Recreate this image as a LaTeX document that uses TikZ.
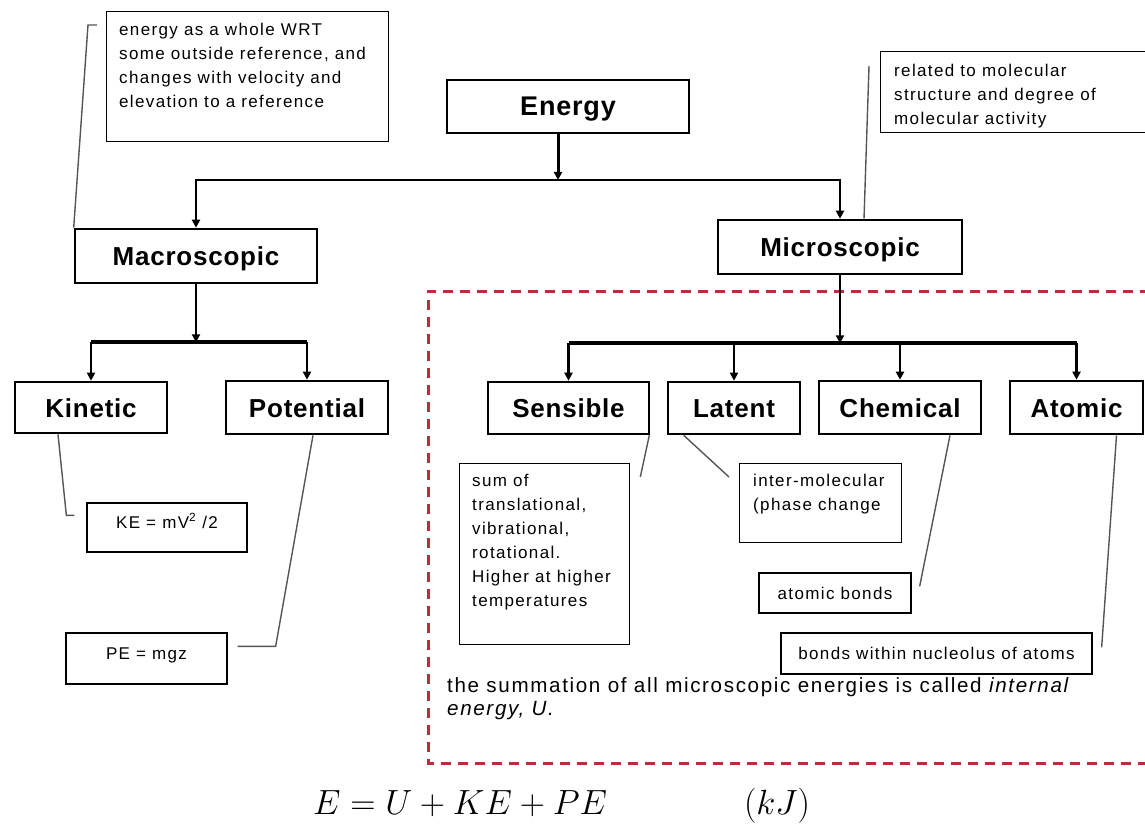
\RequirePackage{fix-cm}
\documentclass[tikz,border=0pt]{standalone}
\usepackage{fontspec}
\usetikzlibrary{arrows.meta,calc}
\newfontfamily\boxfont[LetterSpace=3]{Liberation Sans}
\newfontfamily\notefont[LetterSpace=8]{Liberation Sans}
\definecolor{dashred}{RGB}{185,45,60}
\definecolor{leadgray}{RGB}{85,85,85}

\begin{document}
\begin{tikzpicture}[x=1pt,y=-1pt,
  mainbox/.style={draw,line width=2.6pt,inner sep=0pt,text height=19pt,text depth=0pt,font=\boxfont\bfseries\fontsize{26}{30}\selectfont},
  notebox/.style={draw,line width=1.3pt,inner sep=0pt,text height=12.2pt,text depth=0pt,font=\notefont\fontsize{17}{24}\selectfont},
  notetext/.style={anchor=north west,inner sep=0pt,align=left,font=\notefont\fontsize{17}{24}\selectfont},
  conn/.style={line width=2.6pt,-{Triangle[length=8pt,width=8pt]}},
  bus/.style={line width=4pt},
  leader/.style={draw=leadgray,line width=1.4pt}]

\def\rowy{407.5};
\def\noteh{49};

\useasboundingbox (0,0) rectangle (1145,826);

\draw[dashred,line width=3pt,dash pattern=on 10pt off 7pt] (1150,291) -- (428,291) -- (428,763) -- (1150,763);

\node[mainbox,minimum width=242pt,minimum height=53pt,font=\boxfont\bfseries\fontsize{27}{32}\selectfont] (energy) at (568,106.5) {Energy};
\node[mainbox,minimum width=242pt,minimum height=54pt] (macro) at (196,256) {Macroscopic};
\node[mainbox,minimum width=244pt,minimum height=54pt] (micro) at (840,247) {Microscopic};

\node[mainbox,minimum width=152pt,minimum height=51pt] (kin) at (91,\rowy) {Kinetic};
\node[mainbox,minimum width=162pt,minimum height=53pt] (pot) at (307,\rowy) {Potential};
\node[mainbox,minimum width=161pt,minimum height=52pt] (sens) at (568.5,408) {Sensible};
\node[mainbox,minimum width=132pt,minimum height=52pt] (lat) at (734,408) {Latent};
\node[mainbox,minimum width=162pt,minimum height=53pt] (chem) at (900,\rowy) {Chemical};
\node[mainbox,minimum width=133pt,minimum height=53pt] (atom) at (1076.5,\rowy) {Atomic};

\coordinate (ej) at (558,180);
\draw[conn,line width=3pt] (energy.south -| ej) -- (ej);
\draw[conn] (ej) -| (macro.north);
\draw[conn] (ej) -| (micro.north);

\coordinate (mj) at ($(macro.south)+(0,58)$);
\draw[conn] (macro.south) -- (mj);
\draw[bus] (kin.north |- mj) -- (pot.north |- mj);
\draw[conn] (kin.north |- mj) -- (kin.north);
\draw[conn] (pot.north |- mj) -- (pot.north);

\coordinate (sj) at ($(micro.south)+(0,68)$);
\draw[conn] (micro.south) -- (sj);
\draw[bus] (sens.north |- sj) -- (atom.north |- sj);
\foreach \n in {sens,lat,chem,atom}
  \draw[conn] (\n.north |- sj) -- (\n.north);

\node[notebox,minimum width=282pt,minimum height=130pt,anchor=north west] (wrtnote) at (106,11) {};
\node[notetext] (wrttext) at ($(wrtnote.north west)+(13,11.5)$) {energy as a whole WRT\\some outside reference, and\\changes with velocity and\\elevation to a reference};

\node[notebox,minimum width=270pt,minimum height=81pt,anchor=north west] (molnote) at (880,51) {};
\node[notetext] (moltext) at ($(molnote.north west)+(14,12.5)$) {related to molecular\\structure and degree of\\molecular activity};

\node[notebox,minimum width=160pt,minimum height=\noteh pt,text depth=11pt] (kenote) at (167,527.5) {KE = mV\textsuperscript{2} /2};
\node[notebox,minimum width=161pt,minimum height=51pt,text depth=11pt] (penote) at (146.5,658.5) {PE = mgz};

\node[notebox,minimum width=170pt,minimum height=181pt,anchor=north west] (sensnote) at (459,463) {};
\node[notetext] (senstext) at ($(sensnote.north west)+(13,10.5)$) {sum of\\translational,\\vibrational,\\rotational.\\Higher at higher\\temperatures};

\node[notebox,minimum width=162pt,minimum height=79pt,anchor=north west] (latnote) at (739,463) {};
\node[notetext] (lattext) at ($(latnote.north west)+(14,10.5)$) {inter-molecular\\(phase change};

\node[notebox,minimum width=152pt,minimum height=40pt] (chemnote) at (835,593) {atomic bonds};
\node[notebox,minimum width=311pt,minimum height=41pt] (atomnote) at (936.5,653.5) {bonds within nucleolus of atoms};

\node[notetext,font=\notefont\fontsize{20.6}{23}\selectfont] (sumtext) at (447,677) {the summation of all microscopic energies is called \textit{internal}\\\textit{energy, U.}};

\draw[leader] ($(wrtnote.north west)+(-9,14)$) -- ++(-9,0) -- (macro.north west);
\draw[leader] ($(molnote.north west)+(-11,15)$) -- ([xshift=24pt]micro.north);
\draw[leader] ([xshift=-33pt]kin.south) -- ($(kenote.north west)+(-20,13)$) -- ++(8,0);
\draw[leader] ([xshift=6pt]pot.south) -- ($(penote.north east)+(48,14)$) -- ++(-38,0);
\draw[leader] ([xshift=-1pt]sens.south east) -- ($(sensnote.north east)+(10,14)$);
\draw[leader] ([xshift=17pt]lat.south west) -- ($(latnote.north west)+(-10,14)$);
\draw[leader] ([xshift=50pt]chem.south) -- ($(chemnote.north east)+(8,14)$);
\draw[leader] ([xshift=40pt]atom.south) -- ($(atomnote.north east)+(9,15)$);

\node[anchor=base west,inner sep=0pt,font=\fontsize{35}{42}\selectfont] (eqn) at (313,814) {$E = U + KE + PE$};
\node[anchor=base,inner sep=0pt,font=\fontsize{35}{42}\selectfont] (unit) at (777,814) {$\bigl(kJ\bigr)$};
\end{tikzpicture}
\end{document}
